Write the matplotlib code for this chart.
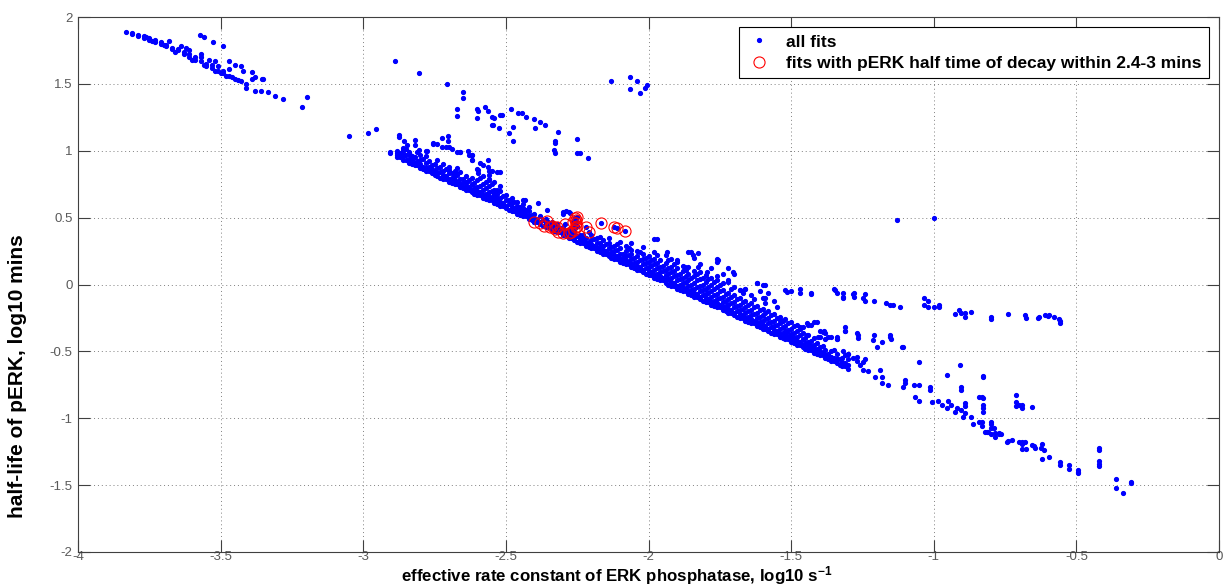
import numpy as np
import matplotlib.pyplot as plt

plt.rcParams['font.family'] = ['Liberation Sans', 'DejaVu Sans']
plt.rcParams['axes.unicode_minus'] = False
plt.rcParams['mathtext.fontset'] = 'custom'
plt.rcParams['mathtext.rm'] = 'Liberation Sans:bold'
plt.rcParams['mathtext.default'] = 'rm'

# upper-left cluster (slow phosphatase)
ul_x = [-3.83, -3.81, -3.81, -3.79, -3.79, -3.77, -3.77, -3.76, -3.75, -3.75, -3.74, -3.73, -3.73,
        -3.71, -3.71, -3.70, -3.69, -3.69, -3.68, -3.67, -3.67, -3.66, -3.65, -3.65, -3.64, -3.63,
        -3.63, -3.62, -3.61, -3.61, -3.60, -3.61, -3.59, -3.59, -3.57, -3.57, -3.56, -3.57, -3.55,
        -3.55, -3.54, -3.53, -3.53, -3.52, -3.52, -3.51, -3.50, -3.51, -3.49, -3.48, -3.49, -3.47,
        -3.47, -3.46, -3.47, -3.45, -3.44, -3.45, -3.43, -3.43, -3.42, -3.41, -3.41, -3.39, -3.38,
        -3.39, -3.38, -3.36, -3.355, -3.35, -3.335, -3.31, -3.28, -3.215, -3.198, -3.572, -3.56,
        -3.525, -3.493]
ul_y = [1.89, 1.88, 1.87, 1.865, 1.86, 1.855, 1.845, 1.85, 1.84, 1.83, 1.82, 1.825, 1.815,
        1.81, 1.80, 1.79, 1.79, 1.78, 1.82, 1.77, 1.76, 1.74, 1.76, 1.75, 1.78, 1.74,
        1.72, 1.77, 1.72, 1.70, 1.68, 1.75, 1.70, 1.68, 1.70, 1.67, 1.64, 1.72, 1.65,
        1.63, 1.68, 1.62, 1.64, 1.67, 1.60, 1.60, 1.58, 1.63, 1.58, 1.56, 1.60, 1.67,
        1.56, 1.55, 1.61, 1.54, 1.53, 1.64, 1.52, 1.63, 1.60, 1.47, 1.50, 1.59, 1.55,
        1.54, 1.45, 1.45, 1.536, 1.536, 1.44, 1.41, 1.39, 1.327, 1.40, 1.865, 1.85,
        1.81, 1.783]

# scattered fits above the main band
mid_x = [-3.05, -2.984, -2.955, -2.889, -2.803, -2.708, -2.652, -2.652, -2.673, -2.673, -2.602, -2.597,
         -2.60, -2.573, -2.562, -2.547, -2.54, -2.549, -2.545, -2.525, -2.52, -2.513, -2.483, -2.49,
         -2.474, -2.476, -2.456, -2.445, -2.43, -2.40, -2.397, -2.38, -2.363, -2.316, -2.327, -2.327,
         -2.33, -2.327, -2.252, -2.252, -2.24, -2.213, -2.13, -2.065, -2.065, -2.04, -2.03, -2.012,
         -2.006,
         -2.874, -2.874, -2.857, -2.848, -2.906, -2.906, -2.883, -2.86, -2.836, -2.803, -2.778, -2.754,
         -2.754, -2.725, -2.702, -2.702, -2.725, -2.71, -2.69, -2.673, -2.66, -2.634, -2.63, -2.62,
         -2.62, -2.59, -2.597, -2.597, -2.59, -2.56, -2.55, -2.562, -2.56, -2.562, -2.532, -2.55,
         -2.532, -2.54, -2.532, -2.433, -2.386, -2.357, -2.30, -2.29, -2.275, -2.252, -2.228, -2.228,
         -2.22, -2.17, -2.673, -2.70, -2.68, -2.638,
         -1.971, -1.852, -1.845, -1.825, -1.825, -1.755, -1.703, -1.72, -1.934, -1.9, -1.872, -1.796,
         -1.76, -1.62, -1.59, -1.68, -1.66, -1.61, -1.59, -1.13, -0.998]
mid_y = [1.113, 1.13, 1.163, 1.67, 1.584, 1.497, 1.437, 1.394, 1.31, 1.26, 1.31, 1.30,
         1.243, 1.33, 1.30, 1.25, 1.247, 1.19, 1.19, 1.168, 1.267, 1.27, 1.31, 1.135,
         1.18, 1.073, 1.285, 1.283, 1.255, 1.235, 1.168, 1.213, 1.193, 1.142, 1.075, 1.06,
         1.005, 0.98, 1.086, 0.986, 0.98, 0.944, 1.524, 1.549, 1.462, 1.524, 1.434, 1.467,
         1.49,
         1.118, 1.10, 1.075, 1.043, 0.993, 0.98, 0.98, 1.006, 0.968, 1.006, 1.0, 1.06,
         1.05, 1.093, 1.11, 1.07, 1.03, 1.03, 1.01, 0.993, 0.99, 1.0, 0.965, 0.97,
         0.93, 0.906, 0.856, 0.83, 0.80, 0.82, 0.85, 0.88, 0.78, 0.93, 0.843, 0.75,
         0.707, 0.68, 0.65, 0.632, 0.607, 0.557, 0.545, 0.55, 0.532, 0.47, 0.37, 0.34,
         0.31, 0.357, 0.87, 0.856, 0.83, 0.77,
         0.338, 0.245, 0.22, 0.233, 0.133, 0.183, 0.096, 0.03, 0.245, 0.18, 0.133, 0.096,
         0.06, 0.013, 0.0, -0.04, -0.03, -0.05, -0.10, 0.485, 0.495]

# main band, one list of values per x column
band_x = [-2.88, -2.86, -2.84, -2.82, -2.80, -2.78, -2.76, -2.74, -2.72, -2.70, -2.68, -2.66,
          -2.64, -2.62, -2.60, -2.58, -2.56, -2.54, -2.52, -2.50, -2.48, -2.46, -2.44, -2.42,
          -2.40, -2.38, -2.36, -2.34, -2.32, -2.30, -2.28, -2.26, -2.24, -2.22, -2.20, -2.18,
          -2.16, -2.14, -2.12, -2.10, -2.08, -2.06, -2.04, -2.02, -2.00, -1.98, -1.96, -1.94,
          -1.92, -1.90, -1.88, -1.86, -1.84, -1.82, -1.80, -1.78, -1.76, -1.74, -1.72, -1.70,
          -1.68, -1.66, -1.64, -1.62, -1.60, -1.58, -1.56, -1.54, -1.52, -1.50, -1.48, -1.46,
          -1.44, -1.42, -1.40, -1.38, -1.36, -1.34, -1.32, -1.30]
band_y = [[0.95, 0.97, 1.00], [0.93, 0.96, 0.98, 1.02], [0.91, 0.94, 0.99],
          [0.89, 0.91, 0.95, 1.04, 1.08], [0.87, 0.90, 0.93, 0.97], [0.85, 0.87, 0.91, 0.96, 1.00],
          [0.83, 0.86, 0.89], [0.81, 0.83, 0.87, 0.93, 1.05], [0.79, 0.82, 0.85, 0.90],
          [0.77, 0.79, 0.83, 0.88, 1.03], [0.75, 0.78, 0.81, 0.85], [0.73, 0.75, 0.79, 0.84, 0.99],
          [0.71, 0.74, 0.77, 0.81], [0.69, 0.71, 0.75, 0.80, 0.93, 0.97], [0.67, 0.70, 0.73, 0.78, 0.86],
          [0.65, 0.67, 0.71, 0.75, 0.81, 0.89], [0.63, 0.66, 0.69, 0.74, 0.79, 0.85],
          [0.61, 0.63, 0.67, 0.71, 0.77], [0.59, 0.62, 0.65, 0.70, 0.74, 0.84], [0.57, 0.59, 0.63, 0.67],
          [0.55, 0.58, 0.61, 0.65], [0.53, 0.55, 0.59, 0.62], [0.51, 0.54, 0.57, 0.60, 0.63],
          [0.49, 0.51, 0.55, 0.58], [0.47, 0.50, 0.53], [0.45, 0.47, 0.51], [0.43, 0.46, 0.49],
          [0.41, 0.43, 0.47], [0.39, 0.42, 0.45], [0.37, 0.39, 0.43, 0.53], [0.35, 0.38, 0.41, 0.54],
          [0.33, 0.35, 0.39, 0.43], [0.31, 0.34, 0.37], [0.29, 0.31, 0.35], [0.27, 0.30, 0.33, 0.37],
          [0.25, 0.27, 0.31, 0.35], [0.23, 0.26, 0.29, 0.33], [0.21, 0.23, 0.27, 0.31, 0.35],
          [0.19, 0.22, 0.25, 0.29], [0.17, 0.19, 0.23, 0.27, 0.32], [0.15, 0.18, 0.21, 0.25, 0.29],
          [0.13, 0.15, 0.19, 0.23, 0.26, 0.31], [0.11, 0.14, 0.17, 0.21, 0.25],
          [0.09, 0.11, 0.15, 0.19, 0.23, 0.28], [0.07, 0.10, 0.13, 0.17, 0.21],
          [0.05, 0.07, 0.11, 0.15, 0.19, 0.24, 0.34], [0.03, 0.06, 0.09, 0.13, 0.18],
          [0.01, 0.03, 0.07, 0.11, 0.16, 0.22], [-0.01, 0.02, 0.05, 0.09, 0.13, 0.19],
          [-0.03, -0.01, 0.03, 0.07, 0.12, 0.17], [-0.05, -0.02, 0.01, 0.05, 0.10, 0.14],
          [-0.07, -0.05, -0.01, 0.03, 0.08, 0.13, 0.24], [-0.09, -0.06, -0.03, 0.01, 0.06, 0.10, 0.20],
          [-0.11, -0.09, -0.05, -0.01, 0.04, 0.09, 0.15], [-0.13, -0.10, -0.07, -0.03, 0.02, 0.07],
          [-0.15, -0.13, -0.09, -0.05, 0.00, 0.05, 0.12], [-0.17, -0.14, -0.11, -0.07, -0.02, 0.03, 0.17, 0.19],
          [-0.19, -0.17, -0.13, -0.09, -0.04, 0.01, 0.08], [-0.21, -0.18, -0.15, -0.11, -0.06, 0.02, 0.12],
          [-0.23, -0.21, -0.17, -0.13, -0.08, -0.02, 0.08], [-0.25, -0.22, -0.19, -0.15, -0.10, -0.04],
          [-0.27, -0.25, -0.21, -0.17, -0.12, -0.03], [-0.29, -0.26, -0.23, -0.19, -0.14, -0.08],
          [-0.31, -0.29, -0.25, -0.21, -0.16, 0.01], [-0.33, -0.30, -0.27, -0.23, -0.18, -0.10, 0.00],
          [-0.35, -0.33, -0.29, -0.25, -0.20, -0.06], [-0.37, -0.34, -0.31, -0.27, -0.22, -0.12],
          [-0.39, -0.37, -0.33, -0.29, -0.24], [-0.41, -0.38, -0.35, -0.31, -0.26, -0.04],
          [-0.43, -0.41, -0.37, -0.33, -0.28, -0.05], [-0.45, -0.42, -0.39, -0.35, -0.30],
          [-0.47, -0.45, -0.41, -0.36, -0.32], [-0.49, -0.46, -0.43, -0.38, -0.30],
          [-0.51, -0.49, -0.45, -0.40, -0.28], [-0.53, -0.50, -0.47, -0.39, -0.35],
          [-0.55, -0.53, -0.49, -0.41, -0.36], [-0.57, -0.54, -0.50, -0.39], [-0.59, -0.56, -0.52, -0.41],
          [-0.61, -0.58, -0.55], [-0.63, -0.60, -0.56, -0.52]]

# main band, in-between columns
band2_x = [-2.87, -2.85, -2.83, -2.81, -2.79, -2.77, -2.75, -2.73, -2.71, -2.69, -2.67, -2.65,
           -2.63, -2.61, -2.59, -2.57, -2.55, -2.53, -2.51, -2.49, -2.47, -2.45, -2.43, -2.41,
           -2.39, -2.37, -2.35, -2.33, -2.31, -2.29, -2.27, -2.25, -2.23, -2.21, -2.19, -2.17,
           -2.15, -2.13, -2.11, -2.09, -2.07, -2.05, -2.03, -2.01, -1.99, -1.97, -1.95, -1.93,
           -1.91, -1.89, -1.87, -1.85, -1.83, -1.81, -1.79, -1.77, -1.75, -1.73, -1.71, -1.69,
           -1.67, -1.65, -1.63, -1.61, -1.59, -1.57, -1.55, -1.53, -1.51, -1.49, -1.47, -1.45,
           -1.43, -1.41, -1.39, -1.37, -1.35, -1.33, -1.31]
band2_y = [[0.95, 0.98], [0.93, 0.97, 1.01], [0.90, 0.93, 0.96], [0.89, 0.92, 0.99],
           [0.86, 0.88, 0.94], [0.85, 0.88, 0.92], [0.82, 0.85, 0.90], [0.80, 0.84, 0.88],
           [0.79, 0.81, 0.86], [0.76, 0.80, 0.83], [0.75, 0.77, 0.82], [0.72, 0.76, 0.79],
           [0.71, 0.73, 0.78], [0.68, 0.72, 0.76], [0.67, 0.69, 0.74], [0.64, 0.68, 0.72, 0.77],
           [0.63, 0.65, 0.70], [0.60, 0.64, 0.68], [0.59, 0.61, 0.66], [0.56, 0.60, 0.63],
           [0.55, 0.57, 0.62], [0.52, 0.56, 0.58], [0.51, 0.53, 0.56], [0.48, 0.52],
           [0.47, 0.49], [0.44, 0.48], [0.43, 0.45], [0.40, 0.44], [0.39, 0.41], [0.36, 0.40],
           [0.35, 0.37], [0.32, 0.36], [0.31, 0.33], [0.28, 0.32], [0.27, 0.29, 0.34],
           [0.24, 0.28, 0.31], [0.23, 0.25, 0.30], [0.20, 0.24, 0.28], [0.19, 0.21, 0.26, 0.30],
           [0.16, 0.20, 0.23], [0.15, 0.17, 0.22, 0.27], [0.12, 0.16, 0.20], [0.11, 0.13, 0.18, 0.24],
           [0.08, 0.12, 0.16, 0.20], [0.07, 0.09, 0.14, 0.18], [0.04, 0.08, 0.12, 0.16, 0.22],
           [0.03, 0.05, 0.10, 0.14], [0.00, 0.04, 0.08, 0.12, 0.18], [-0.01, 0.01, 0.06, 0.10, 0.15],
           [-0.04, 0.00, 0.04, 0.08], [-0.05, -0.03, 0.02, 0.06, 0.11], [-0.08, -0.04, 0.00, 0.05],
           [-0.09, -0.07, -0.02, 0.03, 0.08], [-0.12, -0.08, -0.04, 0.00, 0.05],
           [-0.13, -0.11, -0.06, -0.02, 0.04], [-0.16, -0.12, -0.08, -0.03, 0.02],
           [-0.17, -0.15, -0.10, -0.05, 0.00], [-0.20, -0.16, -0.12, -0.07],
           [-0.21, -0.19, -0.14, -0.09, -0.03], [-0.24, -0.20, -0.16, -0.11],
           [-0.25, -0.23, -0.18, -0.13, -0.06], [-0.28, -0.24, -0.20, -0.15],
           [-0.29, -0.27, -0.22, -0.17, -0.11], [-0.32, -0.28, -0.24, -0.19],
           [-0.33, -0.31, -0.26, -0.21, -0.14], [-0.36, -0.32, -0.28, -0.23],
           [-0.37, -0.35, -0.30, -0.25, -0.17], [-0.40, -0.36, -0.32, -0.27],
           [-0.41, -0.39, -0.34, -0.29], [-0.44, -0.40, -0.36, -0.31], [-0.45, -0.43, -0.38, -0.33],
           [-0.48, -0.44, -0.40], [-0.49, -0.47, -0.42], [-0.52, -0.48, -0.44], [-0.53, -0.51, -0.46],
           [-0.56, -0.52], [-0.57, -0.55, -0.49], [-0.60, -0.56], [-0.61, -0.59]]

# upper right stream
stream_x = [-1.515, -1.469, -1.469, -1.43, -1.43, -1.35, -1.34, -1.346, -1.317, -1.317, -1.317, -1.28,
            -1.28, -1.282, -1.247, -1.24, -1.24, -1.21, -1.168, -1.155, -1.144, -1.117, -1.034, -1.02,
            -1.034, -1.02, -1.0, -0.98, -0.98, -0.926, -0.91, -0.905, -0.89, -0.89, -0.87, -0.80,
            -0.80, -0.74, -0.68, -0.675, -0.634, -0.63, -0.61, -0.60, -0.58, -0.56, -0.557, -0.557,
            -0.595]
stream_y = [-0.054, -0.03, -0.06, -0.06, -0.07, -0.03, -0.06, -0.04, -0.066, -0.09, -0.10, -0.066,
            -0.09, -0.07, -0.10, -0.07, -0.12, -0.12, -0.142, -0.15, -0.155, -0.166, -0.10, -0.12,
            -0.15, -0.17, -0.17, -0.15, -0.17, -0.22, -0.19, -0.21, -0.21, -0.24, -0.206, -0.245,
            -0.26, -0.22, -0.228, -0.25, -0.25, -0.24, -0.23, -0.236, -0.24, -0.255, -0.27, -0.29,
            -0.228]

# lower right tail
tail_x = [-1.54, -1.515, -1.50, -1.469, -1.445, -1.43, -1.41, -1.405, -1.387, -1.37, -1.34, -1.34,
          -1.31, -1.31, -1.265, -1.265, -1.212, -1.18, -1.155, -1.15, -1.107, -1.11, -1.2, -1.385,
          -1.31, -1.27, -1.21, -1.155, -1.445,
          -1.434, -1.42, -1.387, -1.364, -1.34, -1.317, -1.31, -1.30, -1.282, -1.27, -1.26, -1.247,
          -1.23, -1.206, -1.19, -1.18, -1.247, -1.27, -1.24, -1.16, -1.18, -1.10, -1.10, -1.107,
          -1.07, -1.066, -1.05, -1.05, -1.013, -1.013, -1.007, -0.985, -0.97, -0.95, -0.955, -0.94,
          -0.92, -0.925, -0.905, -0.896, -0.89, -0.862, -0.84, -0.83, -0.87,
          -1.05, -0.955, -0.908, -0.903, -0.903, -0.89, -0.89, -0.826, -0.83, -0.826, -0.826, -0.826,
          -0.80, -0.80, -0.71, -0.71, -0.69, -0.654, -0.815, -0.77, -0.765, -0.727, -0.74, -0.70,
          -0.69, -0.69, -0.654, -0.645,
          -0.826, -0.84, -0.826, -0.83, -0.80, -0.79, -0.82, -0.81, -0.80, -0.785, -0.785, -0.77,
          -0.743, -0.71, -0.70, -0.69, -0.68, -0.69, -0.675, -0.648, -0.62, -0.625, -0.615, -0.62,
          -0.596, -0.557, -0.557, -0.525, -0.525, -0.495, -0.495, -0.495, -0.42, -0.42, -0.42, -0.42,
          -0.42, -0.362, -0.362, -0.335, -0.31, -0.31]
tail_y = [-0.265, -0.365, -0.39, -0.316, -0.29, -0.30, -0.278, -0.39, -0.353, -0.39, -0.39, -0.41,
          -0.316, -0.346, -0.378, -0.40, -0.415, -0.427, -0.395, -0.41, -0.465, -0.47, -0.47, -0.345,
          -0.35, -0.365, -0.38, -0.38, -0.378,
          -0.45, -0.48, -0.51, -0.55, -0.56, -0.50, -0.53, -0.52, -0.55, -0.57, -0.60, -0.64,
          -0.65, -0.69, -0.64, -0.69, -0.58, -0.54, -0.56, -0.75, -0.74, -0.714, -0.74, -0.764,
          -0.75, -0.84, -0.75, -0.87, -0.764, -0.79, -0.876, -0.87, -0.9, -0.87, -0.925, -0.9,
          -0.92, -0.95, -0.94, -0.99, -0.96, -1.04, -1.03, -1.06, -0.99,
          -0.577, -0.677, -0.60, -0.764, -0.79, -0.888, -0.91, -0.69, -0.84, -0.85, -0.90, -0.92,
          -1.04, -1.07, -0.826, -0.88, -0.90, -0.913, -1.10, -1.11, -1.12, -1.16, -1.17, -1.175,
          -1.19, -1.18, -1.20, -1.22,
          -0.684, -0.84, -0.95, -1.03, -1.03, -1.07, -1.10, -1.10, -1.12, -1.11, -1.14, -1.12,
          -1.18, -0.908, -0.90, -0.925, -1.18, -1.233, -1.233, -1.21, -1.19, -1.22, -1.235, -1.307,
          -1.288, -1.325, -1.35, -1.35, -1.38, -1.39, -1.40, -1.41, -1.225, -1.24, -1.32, -1.345,
          -1.36, -1.456, -1.523, -1.556, -1.48, -1.485]

# fits with pERK half time of decay within 2.4-3 mins
red_x = [-2.40, -2.38, -2.357, -2.367, -2.345, -2.328, -2.316, -2.30, -2.28, -2.27, -2.254, -2.253,
         -2.254, -2.26, -2.252, -2.293, -2.22, -2.208, -2.168, -2.12, -2.11, -2.082, -2.34, -2.32,
         -2.264, -2.258, -2.25]
red_y = [0.465, 0.457, 0.475, 0.437, 0.432, 0.413, 0.395, 0.387, 0.383, 0.395, 0.482, 0.46,
         0.43, 0.41, 0.507, 0.45, 0.427, 0.395, 0.457, 0.427, 0.42, 0.40, 0.44, 0.43,
         0.47, 0.495, 0.44]

bx = []
by = []
for x, ys in zip(band_x + band2_x, band_y + band2_y):
    bx += [x] * len(ys)
    by += ys

all_x = np.concatenate([ul_x, mid_x, bx, stream_x, tail_x, red_x])
all_y = np.concatenate([ul_y, mid_y, by, stream_y, tail_y, red_y])

fig = plt.figure(figsize=(12.25, 5.86), dpi=100)
ax = fig.add_axes([78/1225, 34/586, 1141/1225, 535/586])

ax.plot(all_x, all_y, '.', color='b', ms=5.5, label='all fits')
ax.plot(red_x, red_y, 'o', mfc='none', mec='r', ms=8, mew=0.8,
        label='fits with pERK half time of decay within 2.4-3 mins')

ax.set_xlim(-4, 0)
ax.set_ylim(-2, 2)
xt = [-4, -3.5, -3, -2.5, -2, -1.5, -1, -0.5, 0]
yt = [-2, -1.5, -1, -0.5, 0, 0.5, 1, 1.5, 2]
ax.set_xticks(xt)
ax.set_xticklabels(['-4', '-3.5', '-3', '-2.5', '-2', '-1.5', '-1', '-0.5', '0'])
ax.set_yticks(yt)
ax.set_yticklabels(['-2', '-1.5', '-1', '-0.5', '0', '0.5', '1', '1.5', '2'])
ax.tick_params(direction='in', length=8.5, width=0.8, top=True, right=True,
               labelsize=9.5, labelcolor='0.35', color='0.25')
ax.tick_params(axis='x', pad=-1)
ax.tick_params(axis='y', pad=4)
ax.grid(True, linestyle=(0, (1, 3)), color='0.5', lw=0.7)
ax.set_axisbelow(True)
for s in ax.spines.values():
    s.set_color('0.25')
    s.set_linewidth(0.8)

ax.set_xlabel('effective rate constant of ERK phosphatase, log10 s$^{-1}$',
              fontweight='bold', fontsize=12.2)
ax.set_ylabel('half-life of pERK, log10 mins', fontweight='bold', fontsize=15)
ax.xaxis.set_label_coords(0.472, -0.023)
ax.yaxis.set_label_coords(-0.045, 0.329)

leg = ax.legend(loc='upper right', prop={'weight': 'bold', 'size': 12.5},
                fancybox=False, edgecolor='k', framealpha=1, borderaxespad=0.6,
                handlelength=1.5, handletextpad=0.8, borderpad=0.4, labelspacing=0.35)
leg.get_frame().set_linewidth(0.8)

fig.savefig('out.png', dpi=100)
